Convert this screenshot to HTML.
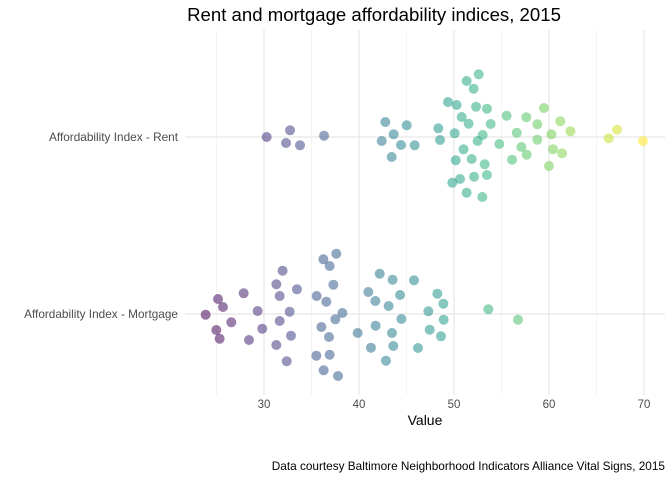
<!DOCTYPE html>
<html><head><meta charset="utf-8"><style>
body{margin:0;background:#fff;}
svg{display:block;font-family:"Liberation Sans",sans-serif;}
</style></head><body>
<svg id="chart" width="672" height="480">
<text x="374" y="21" text-anchor="middle" font-size="18.6" fill="#000">Rent and mortgage affordability indices, 2015</text>
<g id="grid"></g>
<g id="pts"></g>
<text x="425" y="425" text-anchor="middle" font-size="14" fill="#000">Value</text>
<text x="665" y="470" text-anchor="end" font-size="11.8" fill="#000">Data courtesy Baltimore Neighborhood Indicators Alliance Vital Signs, 2015</text>
</svg>
<script>
const categories = ["Affordability Index - Rent", "Affordability Index - Mortgage"];
const xTicks = [30, 40, 50, 60, 70];
const rentValues = [30.28,32.74,32.32,33.79,36.32,42.77,45.02,43.65,42.39,44.42,45.86,43.44,48.35,48.53,49.37,50.28,51.33,52.60,52.07,50.81,51.54,52.32,53.47,53.86,50.07,53.02,52.49,51.0,50.18,51.86,53.23,50.63,49.82,52.11,53.47,51.33,52.98,54.77,55.54,56.60,57.61,58.77,59.47,57.09,57.65,56.11,58.77,60.25,61.19,62.25,60.42,61.37,60.0,66.28,67.16,69.89];
const rentJitter = [0,-6.7,6,8.3,-1.3,-15,-11.7,-2.7,4,8,8.3,20,-8.7,3,-35,-32,-56,-62.7,-48.3,-20,-13.3,-30.3,-28.3,-13,-3.7,-2,4,12.3,23.3,22,27.3,42,45.7,39.7,38,55.7,60,7,-21.3,-4.3,-19.7,-12.7,-29,10,17.7,22.7,2.7,-2.7,-15.7,-5.7,12.3,16.3,29,1.3,-7.3,4];
const mortValues = [23.86,25.16,25.68,24.98,25.33,26.56,27.86,28.42,29.33,29.82,31.30,31.96,31.65,32.70,31.65,33.47,32.84,31.30,32.39,36.25,37.61,36.91,37.30,35.54,36.56,38.25,37.51,36.04,36.84,35.51,36.91,36.28,37.79,39.86,42.18,43.54,40.98,41.72,43.12,44.32,44.46,41.75,43.47,41.26,43.61,42.84,45.79,48.25,48.88,47.30,48.91,47.44,48.63,46.21,53.61,56.74];
const mortJitter = [0.7,-15,-7,16,24.7,8.3,-20.7,26,-3,14.7,-29.7,-43.3,-18,-2.3,7,-24.7,21.7,31,47.3,-54.7,-60.3,-48,-29.3,-18,-12.3,-1,5.3,13,23,41.7,40.7,56.3,62,19,-40.3,-34.3,-22,-13,-8,-19,5,11.7,19,33.7,32,46.7,-33.7,-20.3,-10.3,-2.7,5.7,15.7,22.3,34,-4.7,5.7];

const NS="http://www.w3.org/2000/svg";
const x = v => 264 + (v-30)*9.5;
const yRow = i => [137, 314][i];
const L=185, R=665, T=30, B=395;
const grid=document.getElementById('grid');
function mk(tag, attrs, parent){const e=document.createElementNS(NS,tag);for(const k in attrs)e.setAttribute(k,attrs[k]);parent.appendChild(e);return e;}
for(let v=25; v<=65; v+=10){
  const l=mk('line',{x1:x(v),x2:x(v),y1:T,y2:B,stroke:'#f2f2f2','stroke-width':0.8},grid);
  
  
}
xTicks.forEach(v=>{
  const l=mk('line',{x1:x(v),x2:x(v),y1:T,y2:B,stroke:'#e6e6e6','stroke-width':1.2},grid);
  
  
  const t=mk('text',{x:x(v),y:408,'text-anchor':'middle','font-size':11.5,fill:'#4d4d4d'},grid);
  t.textContent=v;
  
  
});
categories.forEach((c,i)=>{
  const l=mk('line',{x1:L,x2:R,y1:yRow(i),y2:yRow(i),stroke:'#e6e6e6','stroke-width':1.2},grid);
  
  
  const t=mk('text',{x:178,y:yRow(i)+4,'text-anchor':'end','font-size':11.8,fill:'#4d4d4d'},grid);
  t.textContent=c;
  
  
});
const vir=[[68,1,84],[72,40,120],[62,74,137],[49,104,142],[38,130,142],[31,158,137],[53,183,121],[109,205,89],[180,222,44],[253,231,37]];
function color(v){let t=(v-23.8)/(69.9-23.8);t=Math.max(0,Math.min(1,t))*(vir.length-1);const i=Math.min(Math.floor(t),vir.length-2),f=t-i;const c=vir[i].map((a,k)=>Math.round(a+(vir[i+1][k]-a)*f));return `rgb(${c.join(',')})`;}
const pts=document.getElementById('pts');
function draw(vals,jit,row,name){
  vals.forEach((v,i)=>{
    const c=mk('circle',{cx:x(v),cy:yRow(row)+jit[i],r:5,fill:color(v),'fill-opacity':0.55},pts);
    
    
  });
}
draw(rentValues,rentJitter,0,'rent-point');
draw(mortValues,mortJitter,1,'mortgage-point');
</script>
</body></html>
